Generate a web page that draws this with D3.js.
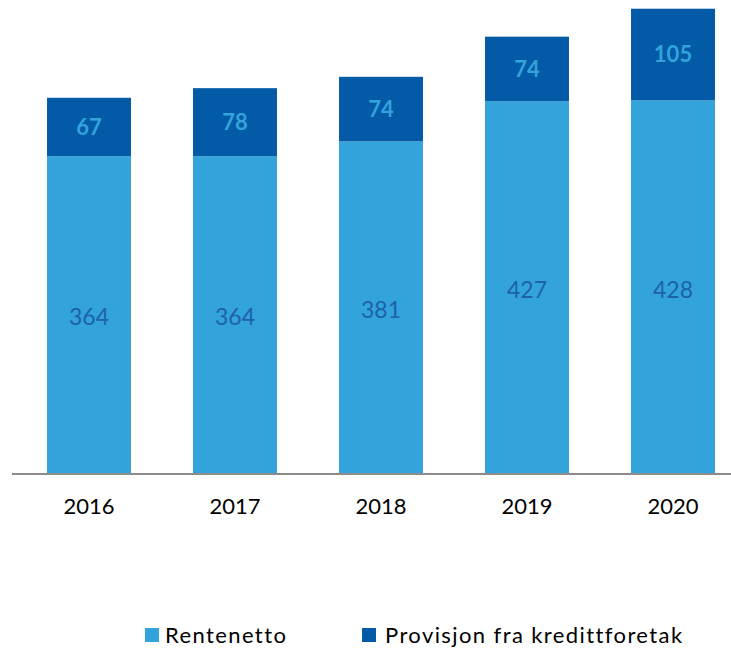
<!DOCTYPE html>
<html>
<head>
<meta charset="utf-8">
<script src="https://cdn.jsdelivr.net/npm/d3@7"></script>
<style>
  body { margin: 0; background: #fff; }
  text { font-family: Lato, "Open Sans", sans-serif; }
</style>
</head>
<body>
<div id="chart"></div>
<script>
var years = ["2016", "2017", "2018", "2019", "2020"];
var rentenetto = [364, 364, 381, 427, 428];
var provisjon = [67, 78, 74, 74, 105];
var seriesNames = ["Rentenetto", "Provisjon fra kredittforetak"];

var svgWidth = 731, svgHeight = 648;
var lightBlue = "#33a3dc", darkBlue = "#035aa6";

var svg = d3.select("#chart").append("svg")
  .attr("width", svgWidth)
  .attr("height", svgHeight);

var x = d3.scaleBand()
  .domain(years)
  .range([16, 746])
  .paddingInner(0.425)
  .paddingOuter(0.2125);

var y = d3.scaleLinear()
  .domain([0, 543])
  .range([474, 0]);

// stack the two series
var rows = years.map(function(yr, i) {
  return { year: yr, r: rentenetto[i], p: provisjon[i] };
});
var stack = d3.stack().keys(["r", "p"])(rows);
var colors = [lightBlue, darkBlue];

var layers = svg.selectAll(".layer")
  .data(stack)
  .enter().append("g")
  .attr("class", "layer")
  .attr("fill", function(d, i) { return colors[i]; });

layers.selectAll("rect")
  .data(function(d) { return d; })
  .enter().append("rect")
  .attr("x", function(d) { return x(d.data.year); })
  .attr("y", function(d) { return y(d[1]); })
  .attr("width", x.bandwidth())
  .attr("height", function(d) { return y(d[0]) - y(d[1]); });

// value labels
layers.selectAll("text")
  .data(function(d, i) { return d.map(function(s) { return { s: s, k: i }; }); })
  .enter().append("text")
  .attr("x", function(d) { return x(d.s.data.year) + x.bandwidth() / 2; })
  .attr("y", function(d) { return (y(d.s[0]) + y(d.s[1])) / 2; })
  .attr("dy", function(d) { return d.k == 1 ? "0.35em" : "0.45em"; })
  .attr("text-anchor", "middle")
  .attr("font-size", function(d) { return d.k == 1 ? 22 : 23; })
  .attr("font-weight", function(d) { return d.k == 1 ? "bold" : "normal"; })
  .attr("fill", function(d) { return d.k == 1 ? lightBlue : "#1d62aa"; })
  .text(function(d) { return d.s[1] - d.s[0]; });

// x axis
var xAxis = svg.append("g")
  .attr("transform", "translate(0,474)")
  .call(d3.axisBottom(x).tickSize(0).tickPadding(24));
xAxis.select(".domain")
  .attr("d", "M12,0H731")
  .attr("stroke", "#8c8c8c")
  .attr("stroke-width", 2);
xAxis.selectAll("text")
  .attr("font-size", 22)
  .attr("fill", "#000")
  .style("font-family", "Lato, 'Open Sans', sans-serif");

// legend
var legendX = [145, 362];
var legendTextX = [20, 23];
var legend = svg.selectAll(".legend")
  .data(seriesNames)
  .enter().append("g")
  .attr("class", "legend")
  .attr("transform", function(d, i) { return "translate(" + legendX[i] + ",635)"; });
legend.append("rect")
  .attr("x", 0).attr("y", -7)
  .attr("width", 14).attr("height", 14)
  .attr("fill", function(d, i) { return colors[i]; });
legend.append("text")
  .attr("x", function(d, i) { return legendTextX[i]; })
  .attr("dy", "0.35em")
  .attr("font-size", 22)
  .attr("letter-spacing", 1.4)
  .attr("fill", "#000")
  .text(function(d) { return d; });
</script>
</body>
</html>
